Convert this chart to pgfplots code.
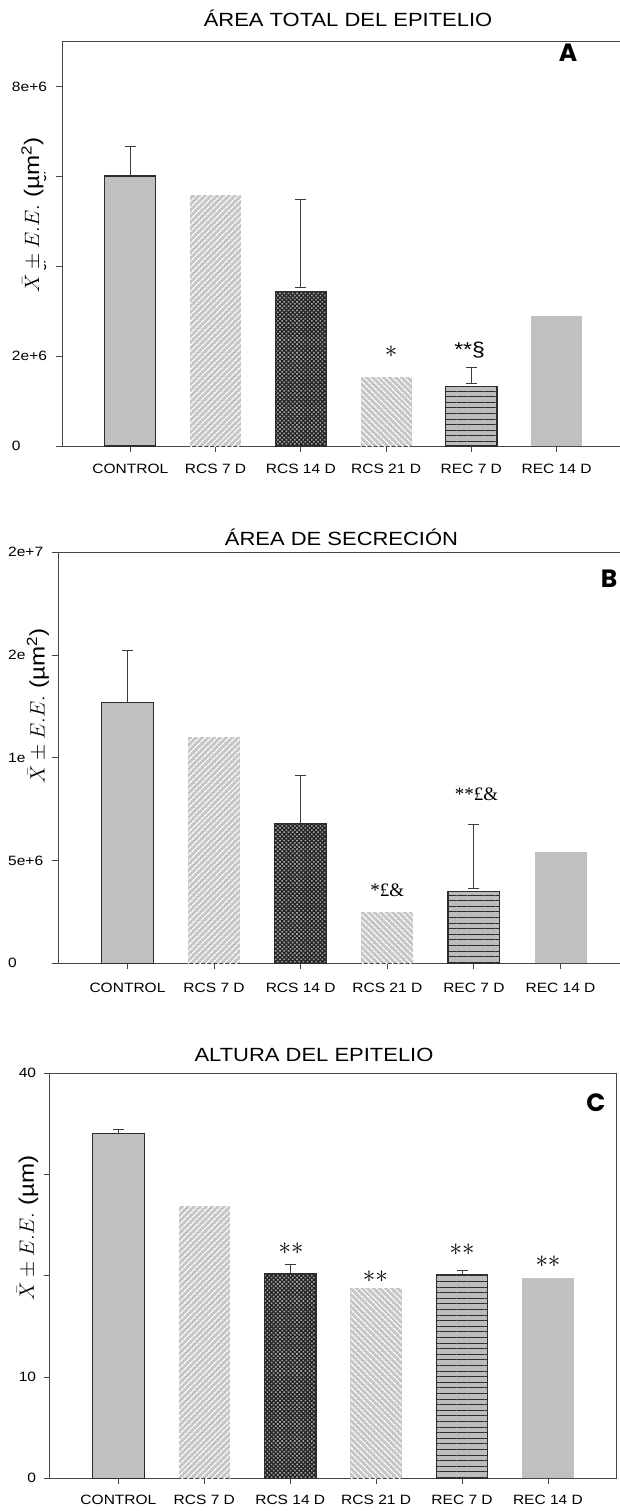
\documentclass[border=0pt]{standalone}
\usepackage{fontspec}
\setmainfont{Liberation Sans}[FakeStretch=1.15]
\newfontfamily\annserif{Liberation Serif}
\newfontfamily\panelfont{Poppins}
\usepackage{pgfplots}
\pgfplotsset{compat=1.18}
\usetikzlibrary{patterns.meta}

\definecolor{barfill}{RGB}{192,192,192}
\definecolor{edge}{RGB}{45,45,45}
\definecolor{axc}{RGB}{70,70,70}
\definecolor{errc}{RGB}{60,60,60}
\definecolor{hatchbase}{RGB}{198,198,198}
\definecolor{crossbase}{RGB}{35,35,35}
\definecolor{crossdot}{RGB}{165,165,165}
\definecolor{linebase}{RGB}{188,188,188}

\pgfplotsset{
  panel/.style={
    scale only axis, anchor=south west,
    xmin=-0.8, xmax=5.8, ymin=0,
    scaled y ticks=false,
    xtick={0,...,5},
    xticklabels={CONTROL,RCS 7 D,RCS 14 D,RCS 21 D,REC 7 D,REC 14 D},
    tick align=outside, tick pos=left,
    major tick length=6pt,
    tick style={draw=axc, line width=0.9pt},
    axis line style={draw=axc, line width=1pt},
    xticklabel style={font=\fontsize{13.5}{15}\selectfont, anchor=north, inner sep=0pt},
    yticklabel style={font=\fontsize{13.5}{15}\selectfont, inner sep=0pt},
    clip=false,
  },
  onebar/.style={ybar, bar shift=0pt, bar width=0.6},
  b control/.style={onebar, fill=barfill, draw=edge, line width=1.2pt},
  b rcs7/.style={onebar, draw=none, fill=hatchbase,
    postaction={pattern={Lines[angle=45,distance=4pt,line width=1.3pt]}, pattern color=white}},
  b rcs14/.style={onebar, preaction={fill=crossbase},
    pattern={Dots[angle=45,distance=3pt,radius=1.1pt]}, pattern color=crossdot,
    draw=edge, line width=1.2pt},
  b rcs21/.style={onebar, draw=none, fill=hatchbase,
    postaction={pattern={Lines[angle=-45,distance=4pt,line width=1.3pt]}, pattern color=white}},
  b rec7/.style={onebar, preaction={fill=linebase},
    pattern={Lines[angle=0,distance=5.6pt,line width=0.9pt]}, pattern color=edge,
    draw=edge, line width=1.2pt},
  b rec14/.style={onebar, draw=none, fill=barfill},
  up err/.style={error bars/.cd, y dir=plus, y explicit,
    error bar style={draw=errc, line width=1pt},
    error mark options={rotate=90, draw=errc, line width=1pt, mark size=5.5pt}},
  both err/.style={draw=none, no markers, forget plot,
    error bars/.cd, y dir=both, y explicit,
    error bar style={draw=errc, line width=1pt},
    error mark options={rotate=90, draw=errc, line width=1pt, mark size=5.5pt}},
}

\begin{document}
\begin{tikzpicture}
\useasboundingbox (0pt,0pt) rectangle (619pt,-1511pt);

% ---------------- A: total epithelial area ----------------
\begin{axis}[panel,
  at={(62.1pt,-446pt)}, width=562.7pt, height=404.3pt,
  ymax=9e6,
  ytick={0,2e6,4e6,6e6,8e6},
  yticklabels={0,2e+6,4e+6,6e+6,8e+6},
  yticklabel style={anchor=west, xshift=-44.3pt},
  xticklabel style={yshift=-11.5pt},
]
\addplot[b control, up err] coordinates {(0,6.01e6) +- (0,0.66e6)};
\addplot[b rcs7]  coordinates {(1,5.58e6)};
\addplot[b rcs14] coordinates {(2,3.44e6)};
\addplot[b rcs21] coordinates {(3,1.54e6)};
\addplot[b rec7]  coordinates {(4,1.32e6)};
\addplot[b rec14] coordinates {(5,2.89e6)};
\addplot[both err] coordinates {(2,4.505e6) +- (0,0.975e6)};
\addplot[both err] coordinates {(4,1.57e6) +- (0,0.18e6)};
\node[anchor=base, inner sep=0pt, font=\fontsize{25}{25}\selectfont] at (axis cs:3.06,1.98e6) {$\ast$};
\node[anchor=base, inner sep=0pt, font=\fontsize{20}{20}\selectfont] at (axis cs:3.98,2.0e6) {**§};
\end{axis}

% ---------------- B: secretion area ----------------
\begin{axis}[panel,
  at={(58.2pt,-963.3pt)}, width=571.6pt, height=411pt,
  ymax=2e7,
  ytick={0,5e6,1e7,1.5e7,2e7},
  yticklabels={0,5e+6,1e+7,2e+7,2e+7},
  yticklabel style={anchor=west, xshift=-44.2pt},
  xticklabel style={yshift=-13.2pt},
]
\addplot[b control, up err] coordinates {(0,12.70e6) +- (0,2.51e6)};
\addplot[b rcs7]  coordinates {(1,11.03e6)};
\addplot[b rcs14, up err] coordinates {(2,6.81e6) +- (0,2.32e6)};
\addplot[b rcs21] coordinates {(3,2.51e6)};
\addplot[b rec7]  coordinates {(4,3.48e6)};
\addplot[b rec14] coordinates {(5,5.40e6)};
\addplot[both err] coordinates {(4,5.205e6) +- (0,1.555e6)};
\node[anchor=base, inner sep=0pt, font=\annserif\fontsize{19}{19}\selectfont] at (axis cs:3,3.24e6) {*£\&};
\node[anchor=base, inner sep=0pt, font=\annserif\fontsize{19}{19}\selectfont] at (axis cs:4.03,7.90e6) {**£\&};
\end{axis}

% ---------------- C: epithelial height ----------------
\begin{axis}[panel,
  at={(49.7pt,-1478.3pt)}, width=567pt, height=405pt,
  ymax=40,
  ytick={0,10,20,30,40},
  yticklabels={0,10,20,30,40},
  yticklabel style={anchor=east, xshift=-7.4pt},
  xticklabel style={yshift=-10.9pt},
]
\addplot[b control, up err] coordinates {(0,34.09) +- (0,0.33)};
\addplot[b rcs7]  coordinates {(1,26.9)};
\addplot[b rcs14, up err] coordinates {(2,20.23) +- (0,0.89)};
\addplot[b rcs21] coordinates {(3,18.77)};
\addplot[b rec7, up err]  coordinates {(4,20.13) +- (0,0.42)};
\addplot[b rec14] coordinates {(5,19.76)};
\node[anchor=base, inner sep=0pt, font=\fontsize{24}{24}\selectfont] at (axis cs:2.01,22.15) {$\ast\ast$};
\node[anchor=base, inner sep=0pt, font=\fontsize{24}{24}\selectfont] at (axis cs:2.99,19.34) {$\ast\ast$};
\node[anchor=base, inner sep=0pt, font=\fontsize{24}{24}\selectfont] at (axis cs:4,21.98) {$\ast\ast$};
\node[anchor=base, inner sep=0pt, font=\fontsize{24}{24}\selectfont] at (axis cs:5,20.82) {$\ast\ast$};
\end{axis}

% titles and panel letters
\node[anchor=base, inner sep=0pt, font=\fontsize{19.1}{20}\selectfont] at (348pt,-26.7pt) {ÁREA TOTAL DEL EPITELIO};
\node[anchor=base, inner sep=0pt, font=\fontsize{19.1}{20}\selectfont] at (341.5pt,-545pt) {ÁREA DE SECRECIÓN};
\node[anchor=base, inner sep=0pt, font=\fontsize{19.1}{20}\selectfont] at (314pt,-1061pt) {ALTURA DEL EPITELIO};
\node[anchor=base, inner sep=0pt, font=\panelfont\bfseries\fontsize{25}{25}\selectfont] at (568pt,-61.5pt) {A};
\node[anchor=base, inner sep=0pt, font=\panelfont\bfseries\fontsize{25}{25}\selectfont] at (609pt,-587.3pt) {B};
\node[anchor=base, inner sep=0pt, font=\panelfont\bfseries\fontsize{25}{25}\selectfont] at (596pt,-1111.7pt) {C};

% y-axis titles on white backing
\fill[white] (9pt,-138pt) rectangle (44pt,-293pt);
\node[rotate=90, inner sep=0pt, font=\fontsize{21}{21}\selectfont] at (32.5pt,-215pt) {$\bar{X}\pm E.E.$ (µm\textsuperscript{2})};
\fill[white] (26pt,-628pt) rectangle (50pt,-783pt);
\node[rotate=90, inner sep=0pt, font=\fontsize{21}{21}\selectfont] at (38pt,-706pt) {$\bar{X}\pm E.E.$ (µm\textsuperscript{2})};
\fill[white] (13pt,-1148pt) rectangle (41pt,-1308pt);
\node[rotate=90, inner sep=0pt, font=\fontsize{21}{21}\selectfont] at (27.6pt,-1228pt) {$\bar{X}\pm E.E.$ (µm)};
\end{tikzpicture}
\end{document}
